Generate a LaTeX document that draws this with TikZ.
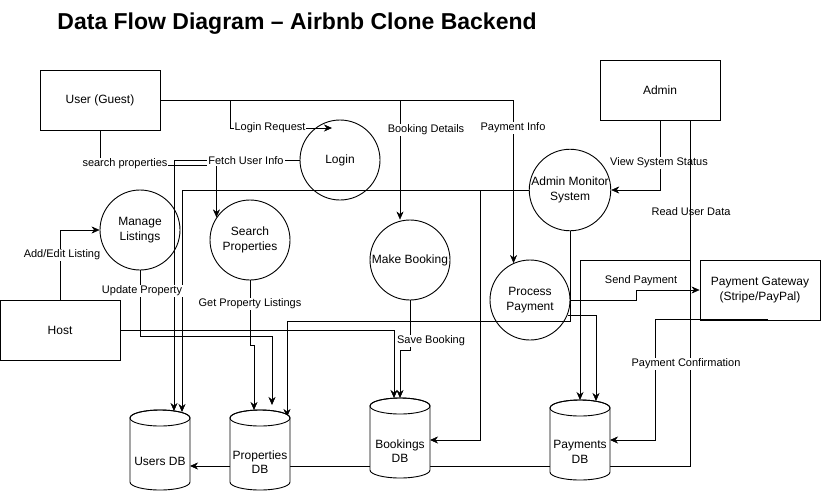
\documentclass[tikz,border=0pt]{standalone}
\usepackage{fontspec}
\setmainfont{Liberation Sans}
\usetikzlibrary{arrows.meta,positioning,calc,backgrounds}

\begin{document}
\begin{tikzpicture}[x=1pt, y=-1pt, line width=0.9pt,
    ext/.style={draw, rectangle, minimum width=120pt, minimum height=60pt, inner sep=2pt, align=center, font=\fontsize{12}{14.5}\selectfont},
    proc/.style={draw, circle, minimum size=80pt, inner sep=0pt, align=center, font=\fontsize{12}{14.5}\selectfont},
    store/.style={rectangle, minimum width=60pt, minimum height=80pt, inner sep=0pt, outer sep=0pt},
    dbtxt/.style={align=center, inner sep=0pt, font=\fontsize{12}{14.5}\selectfont},
    flow/.style={-{Stealth[length=8pt,width=7pt,inset=2.5pt]}},
    lbl/.style={fill=white, inner sep=1pt, font=\fontsize{11}{13}\selectfont}]
    \useasboundingbox (0,0) rectangle (821,491);

    % Title
    \node[anchor=base west, inner sep=0pt, font=\bfseries\fontsize{23}{27}\selectfont] (title) at (57,29) {Data Flow Diagram – Airbnb Clone Backend};

    % External entities
    \node[ext] (user) at (100,100) {User (Guest)};
    \node[ext] (admin) at (660,90) {Admin};
    \node[ext] (host) at (60,330) {Host};
    \node[ext] (gateway) at (760,290) {Payment Gateway\\(Stripe/PayPal)};

    % Processes
    \node[proc] (login) at (340,160) {Login};
    \node[proc] (manage) at (140,230) {Manage\\Listings};
    \node[proc] (search) at (250,240) {Search\\Properties};
    \node[proc] (booking) at (410,260) {Make Booking};
    \node[proc] (monitor) at (570,190) {Admin Monitor\\System};
    \node[proc] (payment) at (530,300) {Process\\Payment};

    % Data stores
    \node[store] (usersdb) at (160,450) {};
    \node[store] (propdb) at (260,450) {};
    \node[store] (bookdb) at (400,438) {};
    \node[store] (paydb) at (580,440) {};
    \foreach \db in {usersdb,propdb,bookdb,paydb}{
        \filldraw[fill=white] ([yshift=-8pt]\db.north west) -- ([yshift=8pt]\db.south west)
            arc[start angle=180, end angle=0, x radius=30, y radius=8]
            -- ([yshift=-8pt]\db.north east)
            arc[start angle=0, end angle=-180, x radius=30, y radius=8] -- cycle;
        \draw ([yshift=-8pt]\db.north) ellipse[x radius=30, y radius=8];
    }
    \node[dbtxt] (usersdbtxt) at ([yshift=-11pt]usersdb.center) {Users DB};
    \node[dbtxt] (propdbtxt) at ([yshift=-12pt]propdb.center) {Properties\\DB};
    \node[dbtxt] (bookdbtxt) at ([yshift=-13pt]bookdb.center) {Bookings\\DB};
    \node[dbtxt] (paydbtxt) at ([yshift=-12pt]paydb.center) {Payments\\DB};

    % Flows
    \begin{scope}[on background layer]
        \draw[flow] (user.east) -- ++(70,0) |- ([shift={(-8,-32)}]login.center);
        \draw[flow] (user.east) -| ([xshift=-10pt]booking.north);
        \draw[flow] (user.east) -| (payment.114);
        \draw[flow] (user.south) -- ++(0,35) -| (search.146);
        \draw[flow] (login.west) -| ([shift={(14,-39)}]usersdb.center);
        \draw[flow] (monitor.west) -| ([shift={(22,-38)}]usersdb.center);
        \draw[flow] (monitor.west) -- ++(-49,0) |- ([shift={(30,2)}]bookdb.center);
        \draw[flow] (monitor.south) -- ++(0,90) -| ([shift={(27,-33)}]propdb.center);
        \draw[flow] (admin.south) |- (monitor.east);
        \draw[flow] ([xshift=30pt]admin.south) |- ([shift={(30,16)}]usersdb.center);
        \draw[flow] (host.north) |- (manage.west);
        \draw[flow] (host.east) -| ([shift={(-6,-40)}]bookdb.center);
        \draw[flow] (manage.south) -- ++(0,66) -| ([shift={(12,-45)}]propdb.center);
        \draw[flow] (search.south) -- ++(0,65) -- ++(4,0) -- ([shift={(-6,-40)}]propdb.center);
        \draw[flow] (booking.south) -- ++(0,50) -| ([shift={(0,-40)}]bookdb.center);
        \draw[flow] (payment.east) -- ++(66,0) |- (gateway.west);
        \draw[flow] (payment.-22) -| ([shift={(16,-39)}]paydb.center);
        \draw[flow] ([shift={(8,-1)}]gateway.south) -- ++(-113,0) |- ([shift={(30,0)}]paydb.center);
    \end{scope}

    % Flow labels
    \node[lbl] (lblLogin) at (270,128) {Login Request};
    \node[lbl] (lblSearch) at (125,164) {search properties};
    \node[lbl] (lblFetch) at (246,161) {Fetch User Info};
    \node[lbl] (lblBook) at (426,130) {Booking Details};
    \node[lbl] (lblPayInfo) at (513,128) {Payment Info};
    \node[lbl] (lblStatus) at (659,163) {View System Status};
    \node[lbl] (lblRead) at (691,212) {Read User Data};
    \node[lbl] (lblAdd) at (62,255) {Add/Edit Listing};
    \node[lbl] (lblUpdate) at (142,291) {Update Property};
    \node[lbl] (lblGet) at (250,304) {Get Property Listings};
    \node[lbl] (lblSave) at (431,341) {Save Booking};
    \node[lbl] (lblSend) at (641,281) {Send Payment};
    \node[lbl] (lblConfirm) at (686,364) {Payment Confirmation};

    % Admin to payments store, over the labels
    \draw[flow] ([xshift=30pt]admin.south) -- ++(0,140) -| ([shift={(0,-40)}]paydb.center);
\end{tikzpicture}
\end{document}
